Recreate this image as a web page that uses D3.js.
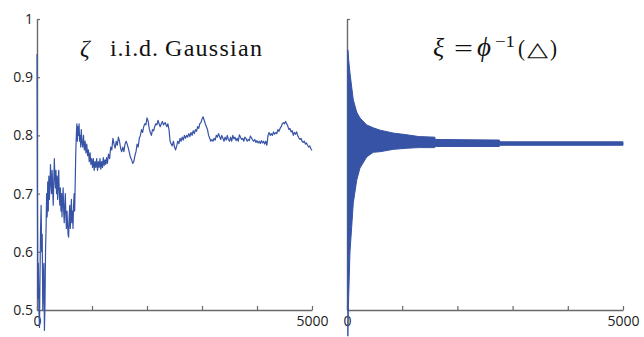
<!DOCTYPE html>
<html>
<head>
<meta charset="utf-8">
<script src="https://cdn.jsdelivr.net/npm/d3@7"></script>
<style>
  body { margin: 0; background: #fff; }
  svg { display: block; }
  .tick text { font-family: "Open Sans", sans-serif; font-size: 14px; fill: #222; }
  .title { font-family: "Liberation Serif", serif; font-size: 24px; fill: #111; }
</style>
</head>
<body>
<div id="chart"></div>
<script>
// left panel: running estimate with i.i.d. Gaussian samples
const gaussN = [0,8,15,25,35,45,55,65,75,85,95,105,115,125,135,145,155,165,175,185,195,205,215,225,235,245,255,265,275,285,295,305,315,325,335,345,355,365,375,385,395,405,415,425,435,445,455,465,475,485,495,505,515,525,535,545,555,565,575,585,595,605,615,625,635,645,655,665,675,685,695,705,715,725,735,745,755,765,775,785,795,805,815,830,845,860,875,890,905,920,935,950,965,980,995,1010,1025,1040,1055,1070,1085,1100,1115,1130,1145,1160,1175,1190,1205,1220,1235,1250,1265,1280,1300,1320,1340,1360,1380,1400,1420,1440,1460,1480,1500,1520,1540,1560,1580,1600,1620,1640,1660,1680,1700,1720,1740,1760,1780,1800,1820,1840,1860,1880,1900,1920,1940,1960,1980,2000,2020,2040,2060,2080,2100,2120,2140,2160,2180,2200,2220,2240,2260,2280,2300,2330,2360,2380,2400,2420,2440,2460,2480,2500,2520,2540,2560,2580,2600,2620,2640,2660,2680,2700,2720,2740,2760,2780,2800,2820,2840,2860,2880,2900,2920,2940,2960,2980,3000,3020,3040,3060,3080,3100,3120,3140,3160,3180,3200,3220,3240,3260,3280,3300,3320,3340,3360,3380,3400,3420,3440,3460,3480,3500,3520,3540,3560,3580,3600,3620,3640,3660,3680,3700,3720,3740,3760,3780,3800,3820,3840,3860,3880,3900,3920,3940,3960,3980,4000,4020,4040,4060,4080,4100,4120,4140,4160,4180,4200,4220,4240,4260,4280,4300,4320,4340,4360,4380,4400,4420,4440,4460,4480,4500,4520,4540,4560,4580,4600,4620,4640,4660,4680,4700,4720,4740,4760,4780,4800,4820,4840,4860,4880,4900,4920,4940,4960,4980,5000];
const gaussV = [0.94,0.70,0.52,0.58,0.50,0.47,0.56,0.64,0.68,0.60,0.63,0.50,0.55,0.58,0.465,0.51,0.60,0.64,0.70,0.66,0.72,0.67,0.73,0.69,0.71,0.75,0.72,0.70,0.74,0.71,0.68,0.72,0.76,0.73,0.71,0.74,0.70,0.73,0.69,0.72,0.74,0.70,0.68,0.71,0.67,0.70,0.66,0.69,0.71,0.67,0.65,0.68,0.70,0.66,0.64,0.67,0.65,0.63,0.625,0.66,0.68,0.64,0.66,0.69,0.65,0.67,0.64,0.68,0.70,0.67,0.72,0.77,0.80,0.82,0.79,0.815,0.80,0.82,0.79,0.80,0.78,0.81,0.79,0.78,0.80,0.775,0.79,0.77,0.785,0.765,0.775,0.755,0.77,0.75,0.76,0.745,0.76,0.74,0.755,0.745,0.76,0.74,0.755,0.745,0.76,0.742,0.755,0.745,0.762,0.748,0.758,0.75,0.762,0.752,0.768,0.76,0.78,0.775,0.795,0.785,0.778,0.79,0.783,0.797,0.79,0.778,0.772,0.78,0.772,0.785,0.79,0.785,0.778,0.77,0.762,0.758,0.752,0.755,0.765,0.772,0.785,0.78,0.795,0.80,0.81,0.805,0.815,0.82,0.818,0.83,0.825,0.812,0.805,0.80,0.81,0.808,0.815,0.82,0.818,0.826,0.82,0.815,0.82,0.824,0.818,0.822,0.815,0.82,0.81,0.79,0.785,0.782,0.79,0.78,0.775,0.782,0.79,0.786,0.795,0.79,0.797,0.792,0.80,0.795,0.80,0.797,0.803,0.798,0.805,0.80,0.808,0.803,0.81,0.807,0.815,0.812,0.82,0.822,0.828,0.832,0.826,0.82,0.815,0.81,0.80,0.795,0.79,0.793,0.79,0.795,0.792,0.80,0.797,0.803,0.798,0.793,0.80,0.795,0.79,0.797,0.792,0.80,0.793,0.79,0.797,0.79,0.80,0.794,0.797,0.791,0.795,0.79,0.801,0.797,0.793,0.795,0.79,0.797,0.795,0.79,0.793,0.791,0.799,0.796,0.792,0.79,0.793,0.788,0.791,0.787,0.79,0.786,0.791,0.787,0.79,0.785,0.79,0.783,0.80,0.805,0.80,0.803,0.80,0.806,0.802,0.805,0.803,0.81,0.807,0.812,0.815,0.82,0.822,0.82,0.824,0.82,0.816,0.81,0.812,0.806,0.808,0.80,0.805,0.802,0.806,0.80,0.796,0.793,0.795,0.79,0.788,0.79,0.785,0.787,0.783,0.78,0.782,0.777,0.774];

// right panel: envelope of the oscillating estimate with xi = phi^-1(triangle)
const triN   = [15,30,54,85,114,176,235,357,476,600,839,1087,1300,1590,1600,2760,2770,5000];
const triTop = [0.947,0.93,0.907,0.883,0.861,0.84,0.83,0.818,0.813,0.809,0.804,0.801,0.798,0.797,0.793,0.792,0.789,0.789];
const triBot = [0.455,0.52,0.60,0.643,0.684,0.723,0.744,0.763,0.771,0.772,0.776,0.778,0.779,0.779,0.781,0.781,0.783,0.783];

const yTicks = [0.5, 0.6, 0.7, 0.8, 0.9, 1];
const xTicks = [0, 1000, 2000, 3000, 4000, 5000];

const width = 644, height = 337;
const blue = '#3753a6';
const axisGrey = '#6a6a6a';

const svg = d3.select('#chart').append('svg')
    .attr('width', width)
    .attr('height', height);

const y = d3.scaleLinear().domain([0.5, 1]).range([310, 19]);

function drawAxes(x, withLabels) {
  const gy = svg.append('g')
      .attr('transform', `translate(${x.range()[0]},0)`)
      .call(d3.axisLeft(y)
          .tickValues(yTicks)
          .tickSizeInner(-3)
          .tickSizeOuter(0)
          .tickPadding(4)
          .tickFormat(d => withLabels ? d3.format('')(d) : ''));

  const gx = svg.append('g')
      .attr('transform', `translate(0,${y(0.5)})`)
      .call(d3.axisBottom(x)
          .tickValues(xTicks)
          .tickSizeInner(-4)
          .tickSizeOuter(0)
          .tickPadding(4)
          .tickFormat(d => (d === 0 || d === 5000) ? d : ''));

  [gx, gy].forEach(g => {
    g.select('.domain').attr('stroke', axisGrey).attr('stroke-width', 1.4);
    g.selectAll('.tick line').attr('stroke', axisGrey).attr('stroke-width', 1.2);
  });
  gx.selectAll('.tick text').attr('dy', '0.85em');
}

// left panel
const xL = d3.scaleLinear().domain([0, 5000]).range([37, 312]);
drawAxes(xL, true);

const gaussData = gaussN.map((n, i) => ({n: n, v: gaussV[i]}));
svg.append('path')
    .datum(gaussData)
    .attr('fill', 'none')
    .attr('stroke', blue)
    .attr('stroke-width', 1.2)
    .attr('stroke-linejoin', 'round')
    .attr('d', d3.line().x(d => xL(d.n)).y(d => y(d.v)));

// right panel
const xR = d3.scaleLinear().domain([0, 5000]).range([347, 623]);
drawAxes(xR, false);

const triData = triN.map((n, i) => ({n: n, top: triTop[i], bot: triBot[i]}));
svg.append('path')
    .datum(triData)
    .attr('fill', blue)
    .attr('stroke', blue)
    .attr('stroke-width', 1)
    .attr('d', d3.area().x(d => xR(d.n)).y0(d => y(d.bot)).y1(d => y(d.top)));

// titles, pieces placed one by one so the widths follow the TeX-set originals
function piece(txt, x, yy, len, opts) {
  const t = svg.append('text').attr('class', 'title')
      .attr('x', x).attr('y', yy)
      .text(txt);
  if (len) {
    t.attr('textLength', len)
     .attr('lengthAdjust', (opts && opts.glyphs) ? 'spacingAndGlyphs' : 'spacing');
  }
  if (opts && opts.italic) t.attr('font-style', 'italic');
  if (opts && opts.size) t.style('font-size', opts.size + 'px');
  if (opts && opts.family) t.style('font-family', opts.family);
  return t;
}

piece('ζ', 80, 56, null, {italic: true});
piece('i.i.d.', 110, 56, 48);
piece('Gaussian', 165, 56, 97);

piece('ξ', 433, 56, null, {italic: true, size: 26});
piece('=', 454, 56, 19, {glyphs: true});
piece('ϕ', 477, 56, null, {italic: true, size: 27});
piece('−1', 495, 47, 20, {size: 17, glyphs: true});
piece('(', 518, 56, 7, {glyphs: true});
piece('△', 527, 56, 21, {size: 20, family: 'DejaVu Sans', glyphs: true});
piece(')', 550, 56, 7, {glyphs: true});
</script>
</body>
</html>
